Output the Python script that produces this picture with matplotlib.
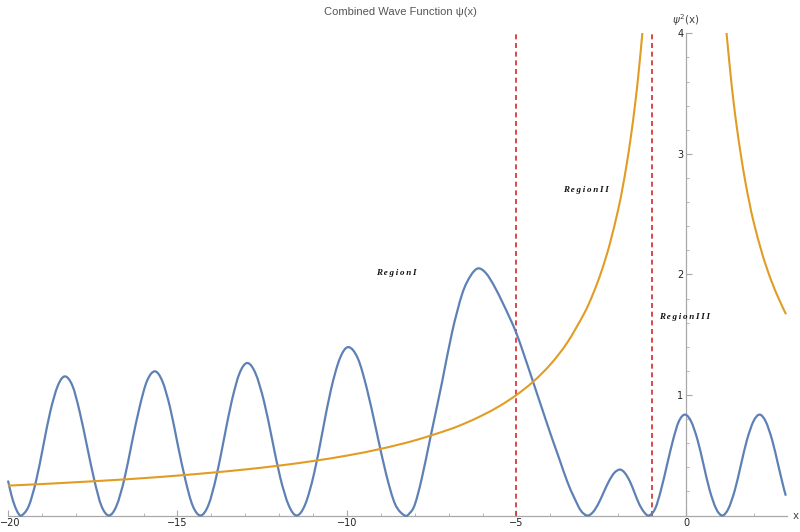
import matplotlib
matplotlib.use("Agg")
import matplotlib.pyplot as plt
from matplotlib.ticker import MultipleLocator, FixedLocator
from matplotlib.path import Path
from matplotlib.patches import PathPatch
from matplotlib.transforms import ScaledTranslation

# ---- data ----
blue_x = [-20.00, -19.90, -19.80, -19.70,
          -19.60, -19.39, -19.17, -18.96, -18.75, -18.53, -18.32, -18.10, -17.89, -17.67, -17.45, -17.24,
          -17.02, -16.80, -16.57, -16.35, -16.12, -15.90, -15.67, -15.45, -15.22, -15.00, -14.77, -14.55,
          -14.32, -14.09, -13.86, -13.63, -13.40, -13.17, -12.94, -12.70, -12.45, -12.21, -11.97, -11.72,
          -11.48, -11.23, -10.97, -10.72, -10.47, -10.21, -9.96, -9.68, -9.41, -9.13, -8.85, -8.58,
          -8.30, -8.15, -8.00, -7.80, -7.53, -7.20, -6.90, -6.60, -6.35, -6.13, -5.90, -5.65, -5.40,
          -5.20, -5.00, -4.75, -4.50, -4.25, -4.00, -3.75, -3.50, -3.30, -3.10,
          -2.91, -2.75, -2.59, -2.43, -2.27, -2.11, -1.95, -1.81, -1.66, -1.52, -1.38, -1.23,
          -1.09, -0.91, -0.74, -0.56, -0.38, -0.21, -0.03, 0.15, 0.34, 0.52, 0.70, 0.89,
          1.07, 1.25, 1.44, 1.62, 1.80, 1.99, 2.17, 2.35, 2.54, 2.72, 2.90, 2.95]
blue_y = [0.29, 0.17, 0.08, 0.02,
          0.0, 0.077, 0.289, 0.577, 0.866, 1.077, 1.154, 1.077, 0.866, 0.577, 0.289, 0.077,
          0.0, 0.080, 0.299, 0.598, 0.897, 1.116, 1.196, 1.116, 0.897, 0.598, 0.299, 0.080,
          0.0, 0.085, 0.316, 0.633, 0.949, 1.180, 1.265, 1.180, 0.949, 0.633, 0.316, 0.085,
          0.0, 0.094, 0.349, 0.699, 1.048, 1.303, 1.397, 1.303, 1.048, 0.699, 0.349, 0.094,
          0.0, 0.02, 0.09, 0.30, 0.66, 1.10, 1.52, 1.84, 1.99, 2.05, 2.01, 1.90, 1.76,
          1.64, 1.51, 1.31, 1.10, 0.89, 0.68, 0.48, 0.28, 0.15, 0.04,
          0.0, 0.026, 0.095, 0.191, 0.286, 0.355, 0.381, 0.355, 0.286, 0.191, 0.095, 0.026,
          0.0, 0.056, 0.209, 0.419, 0.628, 0.781, 0.837, 0.781, 0.628, 0.419, 0.209, 0.056,
          0.0, 0.056, 0.209, 0.419, 0.628, 0.781, 0.837, 0.781, 0.628, 0.419, 0.209, 0.165]

orange_left_x = [-20, -19, -18, -17, -16, -15, -14, -13, -12, -11, -10, -9, -8, -7, -6.5, -6,
                 -5.5, -5, -4.5, -4, -3.5, -3, -2.75, -2.5, -2.25, -2, -1.875, -1.75, -1.625,
                 -1.5, -1.4, -1.3, -1.27]
orange_left_y = [0.248, 0.261, 0.276, 0.292, 0.310, 0.331, 0.355, 0.382, 0.414, 0.452, 0.497,
                 0.553, 0.623, 0.712, 0.767, 0.832, 0.908, 1.000, 1.112, 1.253, 1.435, 1.678,
                 1.833, 2.020, 2.250, 2.538, 2.712, 2.912, 3.143, 3.414, 3.667, 3.960, 4.06]
orange_right_x = [1.18, 1.3, 1.4, 1.5, 1.625, 1.75, 1.875, 2.0, 2.25, 2.5, 2.75, 2.95]
orange_right_y = [4.05, 3.70, 3.44, 3.22, 2.98, 2.77, 2.59, 2.43, 2.17, 1.96, 1.79, 1.67]

region_lines = [-5, -1]
region_labels = ["R\u2009e\u2009g\u2009i\u2009o\u2009n\u2009I",
                 "R\u2009e\u2009g\u2009i\u2009o\u2009n\u2009I\u2009I",
                 "R\u2009e\u2009g\u2009i\u2009o\u2009n\u2009I\u2009I\u2009I"]
region_label_pos = [(-8.55, 2.01), (-2.95, 2.70), (-0.05, 1.65)]

x_major = [-20, -15, -10, -5, 0]
x_major_labels = ["\u221220", "\u221215", "\u221210", "\u22125", "0"]
y_major = [1, 2, 3, 4]


def smooth_path(xs, ys):
    """Smooth curve through the given points (Catmull-Rom drawn as Bezier segments)."""
    pts = list(zip(xs, ys))
    n = len(pts)
    verts = [pts[0]]
    codes = [Path.MOVETO]
    for i in range(n - 1):
        p0 = pts[i - 1] if i > 0 else pts[i]
        p1 = pts[i]
        p2 = pts[i + 1]
        p3 = pts[i + 2] if i + 2 < n else pts[i + 1]
        c1 = (p1[0] + (p2[0] - p0[0]) / 6, p1[1] + (p2[1] - p0[1]) / 6)
        c2 = (p2[0] - (p3[0] - p1[0]) / 6, p2[1] - (p3[1] - p1[1]) / 6)
        verts += [c1, c2, p2]
        codes += [Path.CURVE4] * 3
    return Path(verts, codes)


# ---- figure ----
fig = plt.figure(figsize=(8, 5.32), dpi=100)
ax = fig.add_axes([8/800, (532-515.5)/532, (787-8)/800, (515.5-33.3)/532])
ax.set_xlim(-20, 2.98)
ax.set_ylim(0, 4)

blue = "#5e81b5"
orange = "#e19c24"
axis_col = "#a8a8a8"

ax.add_patch(PathPatch(smooth_path(blue_x, blue_y), fill=False, edgecolor=blue, lw=1.6,
                       clip_on=False, zorder=3, joinstyle="round", capstyle="butt"))
ax.add_patch(PathPatch(smooth_path(orange_left_x, orange_left_y), fill=False, edgecolor=orange,
                       lw=1.5, zorder=3))
ax.add_patch(PathPatch(smooth_path(orange_right_x, orange_right_y), fill=False, edgecolor=orange,
                       lw=1.5, zorder=3))

for xv in region_lines:
    ax.axvline(xv, color="#d42a2a", lw=1.2, ls=(0, (3, 2.2)), zorder=2)

for lab, (xv, yv) in zip(region_labels, region_label_pos):
    ax.text(xv, yv, lab, ha="center", va="center", fontsize=6.5, style="italic",
            fontweight="bold", family=["Liberation Serif", "DejaVu Serif"], color="#111111", zorder=5)

for side in ["top", "right"]:
    ax.spines[side].set_visible(False)
ax.spines["left"].set_position(("data", 0))
ax.spines["bottom"].set_position(("data", 0))
ax.spines["left"].set_color(axis_col)
ax.spines["bottom"].set_color(axis_col)
ax.spines["left"].set_linewidth(0.9)
ax.spines["bottom"].set_linewidth(0.9)

ax.xaxis.set_major_locator(FixedLocator(x_major))
ax.set_xticklabels(x_major_labels)
ax.xaxis.set_minor_locator(MultipleLocator(1))
ax.yaxis.set_major_locator(FixedLocator(y_major))
ax.set_yticklabels([str(v) for v in y_major])
ax.yaxis.set_minor_locator(MultipleLocator(0.2))

ax.tick_params(axis="both", which="major", direction="in", length=4, width=0.8,
               color=axis_col, labelsize=7, labelcolor="#222222", pad=2)
ax.tick_params(axis="both", which="minor", direction="in", length=2.5, width=0.6, color=axis_col)
ax.patch.set_alpha(0)

# nudge the leftmost tick label so it stays inside the figure
first_lbl = ax.xaxis.get_majorticklabels()[0]
first_lbl.set_transform(first_lbl.get_transform() + ScaledTranslation(2.5/100, 0, fig.dpi_scale_trans))

fig.text(0.5, 1 - 12/532, "Combined Wave Function \u03c8(x)", ha="center", va="center",
         fontsize=8, color="#555555", family=["Liberation Sans", "DejaVu Sans"])
fig.text(686/800, 1 - 20/532, r"$\psi^{2}$(x)", ha="center", va="center", fontsize=7.5, color="#444444")
fig.text(796/800, 1 - 516/532, "x", ha="center", va="center", fontsize=7.5, color="#444444")

fig.savefig("out.png", dpi=100)
